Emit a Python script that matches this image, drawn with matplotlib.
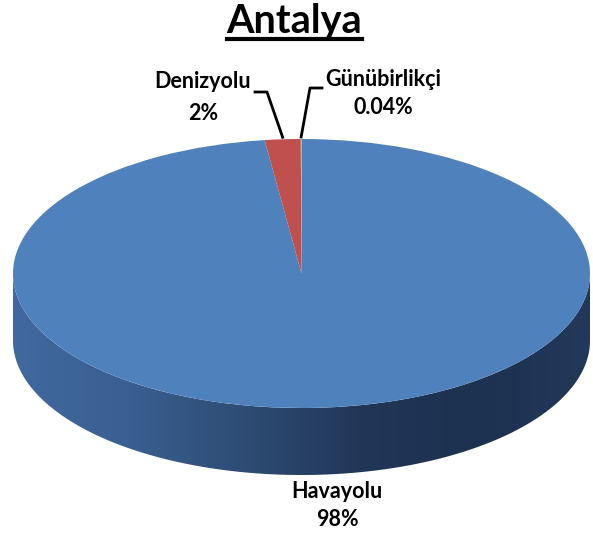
import numpy as np
import matplotlib.pyplot as plt
from matplotlib.transforms import Affine2D
from matplotlib.colors import LinearSegmentedColormap
from matplotlib.patches import Polygon

plt.rcParams["font.family"] = ["Lato", "DejaVu Sans"]

labels = ["Havayolu", "Denizyolu", "Günübirlikçi"]
shares = [97.96, 2.0, 0.04]
pct_text = ["98%", "2%", "0.04%"]
colors = ["#4f81bd", "#c0504d", "#9bbb59"]

W, H = 593, 533
fig = plt.figure(figsize=(W / 100, H / 100), dpi=100)
ax = fig.add_axes([0, 0, 1, 1])

# ellipse geometry in pixel space
CX, CY = 301.5, 273.5
A, B = 288.5, 134.5
DEPTH = 67

# side of the cylinder, front half only, with gradient shading
th = np.linspace(np.pi, 2 * np.pi, 300)
top_x = CX + A * np.cos(th)
top_y = CY - B * np.sin(th)
side = np.concatenate([
    np.column_stack([top_x, top_y]),
    np.column_stack([top_x[::-1], top_y[::-1] + DEPTH]),
])
side_patch = Polygon(side, closed=True, facecolor="none", edgecolor="none")
ax.add_patch(side_patch)
cmap = LinearSegmentedColormap.from_list(
    "side", ["#4169a0", "#3a5f90", "#2e4c74", "#213758", "#1d3150", "#22395a"])
grad = np.linspace(0, 1, 256).reshape(1, -1)
im = ax.imshow(grad, cmap=cmap, aspect="auto",
               extent=[CX - A, CX + A, CY + B + DEPTH, CY - 5], zorder=1)
im.set_clip_path(side_patch)

# top face: pie squashed into an ellipse
T = Affine2D().scale(A, -B).translate(CX, CY) + ax.transData
wedges, _ = ax.pie(shares, colors=colors, startangle=90, counterclock=False,
                   wedgeprops=dict(transform=T, linewidth=0, zorder=2))
for w in wedges:
    w.set_zorder(2)

ax.set_xlim(0, W)
ax.set_ylim(H, 0)
ax.set_aspect("auto")
ax.axis("off")

# labels
cum = np.cumsum([0] + shares)
def rim_point(i):
    mid = 90 - (cum[i] + shares[i] / 2) * 3.6
    r = np.deg2rad(mid)
    return CX + A * np.cos(r), CY - B * np.sin(r)

fs = 15.5
ax.text(337, 491, labels[0], ha="center", va="center", fontsize=fs, fontweight="bold")
ax.text(337, 520, pct_text[0], ha="center", va="center", fontsize=fs, fontweight="bold")

ax.text(203, 82, labels[1], ha="center", va="center", fontsize=fs, fontweight="bold")
ax.text(203, 114, pct_text[1], ha="center", va="center", fontsize=fs, fontweight="bold")
px, py = rim_point(1)
ax.plot([255, 267, px], [92, 92, py - 2], color="black", lw=2, zorder=3)

ax.text(383, 80, labels[2], ha="center", va="center", fontsize=fs, fontweight="bold")
ax.text(383, 108, pct_text[2], ha="center", va="center", fontsize=fs, fontweight="bold")
px, py = rim_point(2)
ax.plot([322, 310, px], [88, 88, py - 2], color="black", lw=2, zorder=3)

t = ax.text(W / 2 - 2, 22, "Antalya", ha="center", va="center",
            fontsize=28.5, fontweight="bold")
fig.canvas.draw()
bb = t.get_window_extent().transformed(ax.transData.inverted())
ax.plot([bb.x0, bb.x1], [39, 39], color="black", lw=3)

fig.savefig("out.png", dpi=100, facecolor="white")
